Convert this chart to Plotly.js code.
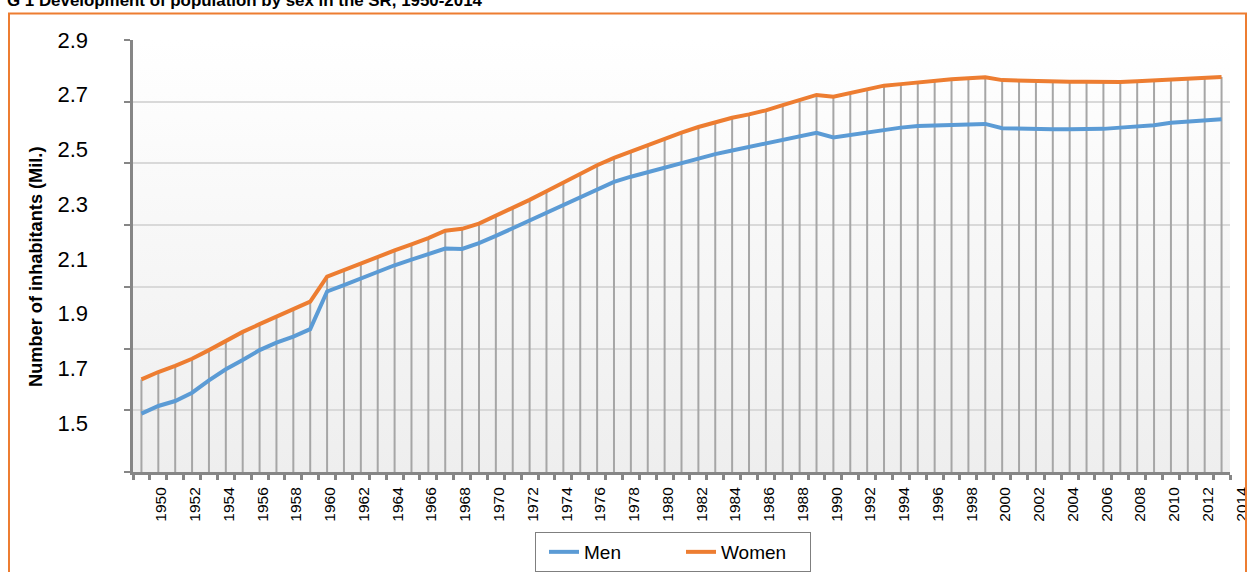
<!DOCTYPE html>
<html>
<head>
<meta charset="utf-8">
<script src="https://cdn.plot.ly/plotly-3.0.1.min.js"></script>
<style>html,body{margin:0;padding:0;background:#fff;}#chart{width:1247px;height:572px;}</style>
</head>
<body>
<div id="chart"></div>
<script>
const years = [1950,1951,1952,1953,1954,1955,1956,1957,1958,1959,1960,1961,1962,1963,1964,1965,1966,1967,1968,1969,
  1970,1971,1972,1973,1974,1975,1976,1977,1978,1979,1980,1981,1982,1983,1984,1985,1986,1987,1988,1989,
  1990,1991,1992,1993,1994,1995,1996,1997,1998,1999,2000,2001,2002,2003,2004,2005,2006,2007,2008,2009,
  2010,2011,2012,2013,2014];
const tickYears = [1950,1952,1954,1956,1958,1960,1962,1964,1966,1968,1970,1972,1974,1976,1978,1980,1982,1984,1986,1988,
  1990,1992,1994,1996,1998,2000,2002,2004,2006,2008,2010,2012,2014];
const men = [1.689,1.714,1.730,1.757,1.797,1.833,1.863,1.895,1.919,1.939,1.963,2.085,2.106,2.128,2.150,2.170,2.188,2.206,2.224,2.223,
  2.242,2.265,2.290,2.315,2.340,2.366,2.392,2.418,2.440,2.457,2.472,2.488,2.503,2.517,2.530,2.542,2.554,2.565,2.578,2.589,
  2.599,2.584,2.592,2.603,2.610,2.616,2.621,2.623,2.625,2.627,2.628,2.614,2.612,2.611,2.611,2.611,2.611,2.612,2.616,2.619,
  2.624,2.632,2.635,2.638,2.643];
const women = [1.800,1.824,1.844,1.867,1.895,1.925,1.954,1.979,2.004,2.028,2.052,2.133,2.155,2.177,2.197,2.218,2.238,2.258,2.282,2.288,
  2.305,2.330,2.356,2.382,2.410,2.438,2.466,2.494,2.518,2.539,2.560,2.581,2.600,2.618,2.634,2.648,2.659,2.672,2.689,2.705,
  2.722,2.716,2.727,2.740,2.752,2.757,2.763,2.768,2.773,2.776,2.779,2.770,2.768,2.766,2.765,2.765,2.765,2.764,2.764,2.766,
  2.769,2.774,2.776,2.778,2.780];
const yTicks = [1.5,1.7,1.9,2.1,2.3,2.5,2.7,2.9];
const seriesNames = ['Men','Women'];

const FONT = "'Liberation Sans', Arial, sans-serif";

// drop lines from the highest series down to the axis floor
const dropX = [], dropY = [];
years.forEach((yr, i) => { dropX.push(yr, yr, null); dropY.push(women[i], yTicks[0], null); });

const traces = [
  {x: dropX, y: dropY, mode: 'lines', line: {color: '#a6a6a6', width: 2}, showlegend: false, hoverinfo: 'skip'},
  {x: years, y: men, name: seriesNames[0], mode: 'lines', line: {color: '#5b9bd5', width: 4}},
  {x: years, y: women, name: seriesNames[1], mode: 'lines', line: {color: '#ed7d31', width: 4}},
  {x: [years[0]], y: [yTicks[0]], yaxis: 'y2', mode: 'markers', marker: {opacity: 0}, showlegend: false, hoverinfo: 'skip'}
];

const grad = 'data:image/svg+xml;utf8,' + encodeURIComponent(
  '<svg xmlns="http://www.w3.org/2000/svg" width="10" height="100" preserveAspectRatio="none">' +
  '<defs><linearGradient id="g" x1="0" y1="0" x2="0" y2="1"><stop offset="0" stop-color="#ffffff"/>' +
  '<stop offset="1" stop-color="#eeeeee"/></linearGradient></defs><rect width="10" height="100" fill="url(#g)"/></svg>');

const L = 133, T = 40, W = 1097, H = 432;
const px = v => (v - L) / W, py = v => (T + H - v) / H;

const layout = {
  width: 1247, height: 572,
  margin: {l: L, r: 1247 - L - W, t: T, b: 572 - T - H, pad: 0, autoexpand: false},
  paper_bgcolor: '#ffffff', plot_bgcolor: 'rgba(0,0,0,0)',
  showlegend: true,
  xaxis: {
    range: [1949.5, 2014.5], showgrid: false, zeroline: false,
    showline: true, linecolor: '#868686', linewidth: 3,
    tickmode: 'array', tickvals: tickYears, ticktext: tickYears.map(String),
    tickangle: -90, ticks: '', ticklabelshift: 20, ticklabelstandoff: 6,
    ticklabeloverflow: 'allow',
    tickfont: {family: FONT, size: 15.5, color: '#000'},
    minor: {tick0: 1949.5, dtick: 1, ticks: 'outside', ticklen: 5, tickwidth: 3, tickcolor: '#868686', showgrid: false}
  },
  yaxis: {
    range: [1.5, 2.9], tickmode: 'array', tickvals: yTicks, showticklabels: false,
    ticks: 'outside', ticklen: 6, tickwidth: 2, tickcolor: '#868686',
    showgrid: true, gridcolor: '#d9d9d9', gridwidth: 2,
    showline: true, linecolor: '#868686', linewidth: 3, zeroline: false
  },
  yaxis2: {
    overlaying: 'y', side: 'left', anchor: 'x', range: [1.322, 2.9],
    tickmode: 'array', tickvals: yTicks, ticktext: yTicks.map(v => v.toFixed(1)),
    showgrid: false, showline: false, zeroline: false, ticks: '',
    ticklabelstandoff: 44,
    tickfont: {family: FONT, size: 22, color: '#000'}
  },
  legend: {
    orientation: 'h', x: px(535), xanchor: 'left', y: py(532), yanchor: 'top',
    bordercolor: '#7f7f7f', borderwidth: 1, bgcolor: '#ffffff', entrywidth: 84, indentation: 8,
    font: {family: FONT, size: 19, color: '#000'}
  },
  images: [{source: grad, xref: 'paper', yref: 'paper', x: 0, y: 1, sizex: 1, sizey: 1,
    sizing: 'stretch', layer: 'below', xanchor: 'left', yanchor: 'top'}],
  shapes: [{type: 'rect', xref: 'paper', yref: 'paper', x0: px(9), x1: px(1246), y0: -0.4, y1: py(13.5),
    line: {color: '#ed7d31', width: 2}, fillcolor: 'rgba(0,0,0,0)'}],
  annotations: [
    {text: 'G 1 Development of population by sex in the SR, 1950-2014', xref: 'paper', yref: 'paper',
      x: px(5), y: py(12), xanchor: 'left', yanchor: 'bottom', showarrow: false,
      font: {family: FONT, size: 16.9, weight: 'bold', color: '#000'}},
    {text: 'Number of inhabitants (Mil.)', xref: 'paper', yref: 'paper', x: px(36), y: py(267),
      xanchor: 'center', yanchor: 'middle', textangle: -90, showarrow: false,
      font: {family: FONT, size: 18.2, weight: 'bold', color: '#000'}}
  ]
};

Plotly.newPlot('chart', traces, layout, {displayModeBar: false, staticPlot: true});
</script>
</body>
</html>
